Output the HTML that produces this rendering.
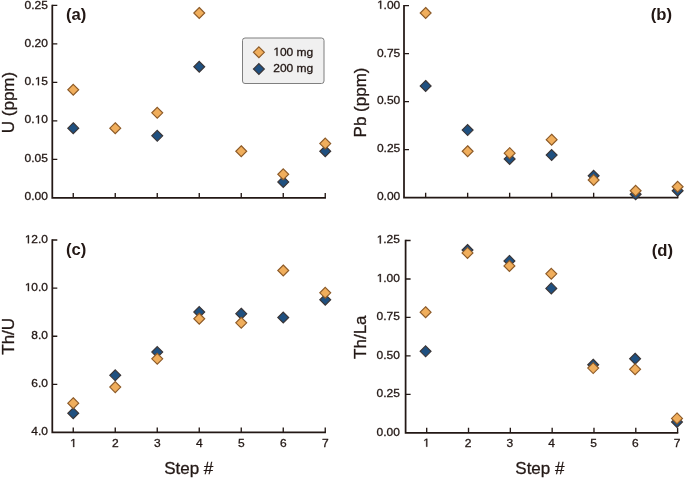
<!DOCTYPE html>
<html lang="en">
<head>
<meta charset="utf-8">
<title>Step leaching results</title>
<style>
html,body{margin:0;padding:0;background:#ffffff;}
body{width:685px;height:479px;overflow:hidden;font-family:"Liberation Sans",sans-serif;}
svg{display:block;will-change:transform;}
svg text{font-family:"Liberation Sans",sans-serif;fill:#231815;stroke:#231815;stroke-width:0.3px;}
</style>
</head>
<body>
<svg width="685" height="479" viewBox="0 0 685 479">
<rect x="0" y="0" width="685" height="479" fill="#ffffff"/>
<g>
<path d="M52.3 4.73V197.95H325.93" fill="none" stroke="#231815" stroke-width="1.75" stroke-linejoin="miter"/>
<text transform="translate(24.61 8.55) scale(1.045 1)" font-size="11.5">0.25</text>
<text transform="translate(24.61 46.85) scale(1.045 1)" font-size="11.5">0.20</text>
<text transform="translate(24.61 85.15) scale(1.045 1)" font-size="11.5">0.</text><path transform="translate(34.63 85.15) scale(0.00587 -0.00562)" d="M555 0V1237L237 1010V1180L570 1409H736V0Z" fill="#231815" stroke="#231815" stroke-width="0.3" vector-effect="non-scaling-stroke"/><text transform="translate(41.32 85.15) scale(1.045 1)" font-size="11.5">5</text>
<text transform="translate(24.61 123.45) scale(1.045 1)" font-size="11.5">0.</text><path transform="translate(34.63 123.45) scale(0.00587 -0.00562)" d="M555 0V1237L237 1010V1180L570 1409H736V0Z" fill="#231815" stroke="#231815" stroke-width="0.3" vector-effect="non-scaling-stroke"/><text transform="translate(41.32 123.45) scale(1.045 1)" font-size="11.5">0</text>
<text transform="translate(24.61 161.75) scale(1.045 1)" font-size="11.5">0.05</text>
<text transform="translate(24.61 200.05) scale(1.045 1)" font-size="11.5">0.00</text>
<path d="M52.3 5.4h5M52.3 43.91h5M52.3 82.42h5M52.3 120.93h5M52.3 159.44h5M73.25 197.95v-5M115.25 197.95v-5M157.25 197.95v-5M199.25 197.95v-5M241.25 197.95v-5M283.25 197.95v-5M325.25 197.95v-5" fill="none" stroke="#231815" stroke-width="1.35"/>
<text transform="translate(13.5 102.5) rotate(-90)" text-anchor="middle" font-size="17">U (ppm)</text>
<text transform="translate(65.9 20.2) scale(0.97 1.01)" text-anchor="start" font-size="17.2" font-weight="bold" style="stroke:none">(a)</text>
<path d="M73.25 122.73L78.7 128.18L73.25 133.63L67.8 128.18Z" fill="#1F5080" stroke="#3A3536" stroke-width="1.15"/>
<path d="M157.25 130.41L162.7 135.86L157.25 141.31L151.8 135.86Z" fill="#1F5080" stroke="#3A3536" stroke-width="1.15"/>
<path d="M199.25 61.29L204.7 66.74L199.25 72.19L193.8 66.74Z" fill="#1F5080" stroke="#3A3536" stroke-width="1.15"/>
<path d="M283.25 176.49L288.7 181.94L283.25 187.39L277.8 181.94Z" fill="#1F5080" stroke="#3A3536" stroke-width="1.15"/>
<path d="M325.25 145.77L330.7 151.22L325.25 156.67L319.8 151.22Z" fill="#1F5080" stroke="#3A3536" stroke-width="1.15"/>
<path d="M73.25 84.33L78.7 89.78L73.25 95.23L67.8 89.78Z" fill="#F0AE5C" stroke="#8C5A28" stroke-width="1.15"/>
<path d="M115.25 122.73L120.7 128.18L115.25 133.63L109.8 128.18Z" fill="#F0AE5C" stroke="#8C5A28" stroke-width="1.15"/>
<path d="M157.25 107.37L162.7 112.82L157.25 118.27L151.8 112.82Z" fill="#F0AE5C" stroke="#8C5A28" stroke-width="1.15"/>
<path d="M199.25 7.53L204.7 12.98L199.25 18.43L193.8 12.98Z" fill="#F0AE5C" stroke="#8C5A28" stroke-width="1.15"/>
<path d="M241.25 145.77L246.7 151.22L241.25 156.67L235.8 151.22Z" fill="#F0AE5C" stroke="#8C5A28" stroke-width="1.15"/>
<path d="M283.25 168.81L288.7 174.26L283.25 179.71L277.8 174.26Z" fill="#F0AE5C" stroke="#8C5A28" stroke-width="1.15"/>
<path d="M325.25 138.09L330.7 143.54L325.25 148.99L319.8 143.54Z" fill="#F0AE5C" stroke="#8C5A28" stroke-width="1.15"/>
</g>
<g>
<path d="M404 4.92V197.7H678.32" fill="none" stroke="#231815" stroke-width="1.75" stroke-linejoin="miter"/>
<path transform="translate(376.91 8.75) scale(0.00587 -0.00562)" d="M555 0V1237L237 1010V1180L570 1409H736V0Z" fill="#231815" stroke="#231815" stroke-width="0.3" vector-effect="non-scaling-stroke"/><text transform="translate(383.59 8.75) scale(1.045 1)" font-size="11.5">.00</text>
<text transform="translate(376.91 56.58) scale(1.045 1)" font-size="11.5">0.75</text>
<text transform="translate(376.91 104.4) scale(1.045 1)" font-size="11.5">0.50</text>
<text transform="translate(376.91 152.23) scale(1.045 1)" font-size="11.5">0.25</text>
<text transform="translate(376.91 200.05) scale(1.045 1)" font-size="11.5">0.00</text>
<path d="M404 5.6h5M404 53.62h5M404 101.65h5M404 149.67h5M425.65 197.7v-5M467.65 197.7v-5M509.65 197.7v-5M551.65 197.7v-5M593.65 197.7v-5M635.65 197.7v-5M677.65 197.7v-5" fill="none" stroke="#231815" stroke-width="1.35"/>
<text transform="translate(365.7 102.5) rotate(-90)" text-anchor="middle" font-size="17">Pb (ppm)</text>
<text transform="translate(672 20.2) scale(0.97 1.01)" text-anchor="end" font-size="17.2" font-weight="bold" style="stroke:none">(b)</text>
<path d="M425.65 80.49L431.1 85.94L425.65 91.39L420.2 85.94Z" fill="#1F5080" stroke="#3A3536" stroke-width="1.15"/>
<path d="M467.65 124.65L473.1 130.1L467.65 135.55L462.2 130.1Z" fill="#1F5080" stroke="#3A3536" stroke-width="1.15"/>
<path d="M509.65 153.45L515.1 158.9L509.65 164.35L504.2 158.9Z" fill="#1F5080" stroke="#3A3536" stroke-width="1.15"/>
<path d="M551.65 149.61L557.1 155.06L551.65 160.51L546.2 155.06Z" fill="#1F5080" stroke="#3A3536" stroke-width="1.15"/>
<path d="M593.65 170.35L599.1 175.8L593.65 181.25L588.2 175.8Z" fill="#1F5080" stroke="#3A3536" stroke-width="1.15"/>
<path d="M635.65 188.78L641.1 194.23L635.65 199.68L630.2 194.23Z" fill="#1F5080" stroke="#3A3536" stroke-width="1.15"/>
<path d="M677.65 185.32L683.1 190.77L677.65 196.22L672.2 190.77Z" fill="#1F5080" stroke="#3A3536" stroke-width="1.15"/>
<path d="M425.65 7.53L431.1 12.98L425.65 18.43L420.2 12.98Z" fill="#F0AE5C" stroke="#8C5A28" stroke-width="1.15"/>
<path d="M467.65 145.77L473.1 151.22L467.65 156.67L462.2 151.22Z" fill="#F0AE5C" stroke="#8C5A28" stroke-width="1.15"/>
<path d="M509.65 147.69L515.1 153.14L509.65 158.59L504.2 153.14Z" fill="#F0AE5C" stroke="#8C5A28" stroke-width="1.15"/>
<path d="M551.65 134.25L557.1 139.7L551.65 145.15L546.2 139.7Z" fill="#F0AE5C" stroke="#8C5A28" stroke-width="1.15"/>
<path d="M593.65 174.57L599.1 180.02L593.65 185.47L588.2 180.02Z" fill="#F0AE5C" stroke="#8C5A28" stroke-width="1.15"/>
<path d="M635.65 185.32L641.1 190.77L635.65 196.22L630.2 190.77Z" fill="#F0AE5C" stroke="#8C5A28" stroke-width="1.15"/>
<path d="M677.65 181.29L683.1 186.74L677.65 192.19L672.2 186.74Z" fill="#F0AE5C" stroke="#8C5A28" stroke-width="1.15"/>
</g>
<g>
<path d="M52.3 239.32V432.4H325.93" fill="none" stroke="#231815" stroke-width="1.75" stroke-linejoin="miter"/>
<path transform="translate(24.61 243.25) scale(0.00587 -0.00562)" d="M555 0V1237L237 1010V1180L570 1409H736V0Z" fill="#231815" stroke="#231815" stroke-width="0.3" vector-effect="non-scaling-stroke"/><text transform="translate(31.29 243.25) scale(1.045 1)" font-size="11.5">2.0</text>
<path transform="translate(24.61 291.1) scale(0.00587 -0.00562)" d="M555 0V1237L237 1010V1180L570 1409H736V0Z" fill="#231815" stroke="#231815" stroke-width="0.3" vector-effect="non-scaling-stroke"/><text transform="translate(31.29 291.1) scale(1.045 1)" font-size="11.5">0.0</text>
<text transform="translate(31.29 338.95) scale(1.045 1)" font-size="11.5">8.0</text>
<text transform="translate(31.29 386.8) scale(1.045 1)" font-size="11.5">6.0</text>
<text transform="translate(31.29 434.65) scale(1.045 1)" font-size="11.5">4.0</text>
<path transform="translate(69.91 447) scale(0.00587 -0.00562)" d="M555 0V1237L237 1010V1180L570 1409H736V0Z" fill="#231815" stroke="#231815" stroke-width="0.3" vector-effect="non-scaling-stroke"/>
<text transform="translate(111.91 447) scale(1.045 1)" font-size="11.5">2</text>
<text transform="translate(153.91 447) scale(1.045 1)" font-size="11.5">3</text>
<text transform="translate(195.91 447) scale(1.045 1)" font-size="11.5">4</text>
<text transform="translate(237.91 447) scale(1.045 1)" font-size="11.5">5</text>
<text transform="translate(279.91 447) scale(1.045 1)" font-size="11.5">6</text>
<text transform="translate(321.91 447) scale(1.045 1)" font-size="11.5">7</text>
<path d="M52.3 240h5M52.3 288.1h5M52.3 336.2h5M52.3 384.3h5M73.25 432.4v-5M115.25 432.4v-5M157.25 432.4v-5M199.25 432.4v-5M241.25 432.4v-5M283.25 432.4v-5M325.25 432.4v-5" fill="none" stroke="#231815" stroke-width="1.35"/>
<text transform="translate(13.5 336.3) rotate(-90)" text-anchor="middle" font-size="17">Th/U</text>
<text transform="translate(65.9 255.3) scale(0.97 1.01)" text-anchor="start" font-size="17.2" font-weight="bold" style="stroke:none">(c)</text>
<text x="188.75" y="473.6" text-anchor="middle" font-size="17">Step #</text>
<path d="M73.25 407.83L78.7 413.28L73.25 418.73L67.8 413.28Z" fill="#1F5080" stroke="#3A3536" stroke-width="1.15"/>
<path d="M115.25 369.91L120.7 375.36L115.25 380.81L109.8 375.36Z" fill="#1F5080" stroke="#3A3536" stroke-width="1.15"/>
<path d="M157.25 346.63L162.7 352.08L157.25 357.53L151.8 352.08Z" fill="#1F5080" stroke="#3A3536" stroke-width="1.15"/>
<path d="M199.25 306.55L204.7 312L199.25 317.45L193.8 312Z" fill="#1F5080" stroke="#3A3536" stroke-width="1.15"/>
<path d="M241.25 308.23L246.7 313.68L241.25 319.13L235.8 313.68Z" fill="#1F5080" stroke="#3A3536" stroke-width="1.15"/>
<path d="M283.25 312.07L288.7 317.52L283.25 322.97L277.8 317.52Z" fill="#1F5080" stroke="#3A3536" stroke-width="1.15"/>
<path d="M325.25 294.31L330.7 299.76L325.25 305.21L319.8 299.76Z" fill="#1F5080" stroke="#3A3536" stroke-width="1.15"/>
<path d="M73.25 397.75L78.7 403.2L73.25 408.65L67.8 403.2Z" fill="#F0AE5C" stroke="#8C5A28" stroke-width="1.15"/>
<path d="M115.25 381.67L120.7 387.12L115.25 392.57L109.8 387.12Z" fill="#F0AE5C" stroke="#8C5A28" stroke-width="1.15"/>
<path d="M157.25 353.35L162.7 358.8L157.25 364.25L151.8 358.8Z" fill="#F0AE5C" stroke="#8C5A28" stroke-width="1.15"/>
<path d="M199.25 313.27L204.7 318.72L199.25 324.17L193.8 318.72Z" fill="#F0AE5C" stroke="#8C5A28" stroke-width="1.15"/>
<path d="M241.25 317.35L246.7 322.8L241.25 328.25L235.8 322.8Z" fill="#F0AE5C" stroke="#8C5A28" stroke-width="1.15"/>
<path d="M283.25 265.03L288.7 270.48L283.25 275.93L277.8 270.48Z" fill="#F0AE5C" stroke="#8C5A28" stroke-width="1.15"/>
<path d="M325.25 287.35L330.7 292.8L325.25 298.25L319.8 292.8Z" fill="#F0AE5C" stroke="#8C5A28" stroke-width="1.15"/>
</g>
<g>
<path d="M405.6 239.82V432.75H678.29" fill="none" stroke="#231815" stroke-width="1.75" stroke-linejoin="miter"/>
<path transform="translate(376.51 243.45) scale(0.00587 -0.00562)" d="M555 0V1237L237 1010V1180L570 1409H736V0Z" fill="#231815" stroke="#231815" stroke-width="0.3" vector-effect="non-scaling-stroke"/><text transform="translate(383.19 243.45) scale(1.045 1)" font-size="11.5">.25</text>
<path transform="translate(376.51 281.96) scale(0.00587 -0.00562)" d="M555 0V1237L237 1010V1180L570 1409H736V0Z" fill="#231815" stroke="#231815" stroke-width="0.3" vector-effect="non-scaling-stroke"/><text transform="translate(383.19 281.96) scale(1.045 1)" font-size="11.5">.00</text>
<text transform="translate(376.51 320.47) scale(1.045 1)" font-size="11.5">0.75</text>
<text transform="translate(376.51 358.98) scale(1.045 1)" font-size="11.5">0.50</text>
<text transform="translate(376.51 397.49) scale(1.045 1)" font-size="11.5">0.25</text>
<text transform="translate(376.51 436) scale(1.045 1)" font-size="11.5">0.00</text>
<path transform="translate(422.96 446.7) scale(0.00587 -0.00562)" d="M555 0V1237L237 1010V1180L570 1409H736V0Z" fill="#231815" stroke="#231815" stroke-width="0.3" vector-effect="non-scaling-stroke"/>
<text transform="translate(464.76 446.7) scale(1.045 1)" font-size="11.5">2</text>
<text transform="translate(506.56 446.7) scale(1.045 1)" font-size="11.5">3</text>
<text transform="translate(548.36 446.7) scale(1.045 1)" font-size="11.5">4</text>
<text transform="translate(590.16 446.7) scale(1.045 1)" font-size="11.5">5</text>
<text transform="translate(631.96 446.7) scale(1.045 1)" font-size="11.5">6</text>
<text transform="translate(673.76 446.7) scale(1.045 1)" font-size="11.5">7</text>
<path d="M405.6 240.5h5M405.6 278.95h5M405.6 317.4h5M405.6 355.85h5M405.6 394.3h5M426.7 432.75v-5M468.52 432.75v-5M510.34 432.75v-5M552.16 432.75v-5M593.98 432.75v-5M635.8 432.75v-5M677.62 432.75v-5" fill="none" stroke="#231815" stroke-width="1.35"/>
<text transform="translate(365.7 337.2) rotate(-90)" text-anchor="middle" font-size="17">Th/La</text>
<text transform="translate(673 255.5) scale(0.97 1.01)" text-anchor="end" font-size="17.2" font-weight="bold" style="stroke:none">(d)</text>
<text x="539.9" y="473.6" text-anchor="middle" font-size="17">Step #</text>
<path d="M425.6 345.91L431.05 351.36L425.6 356.81L420.15 351.36Z" fill="#1F5080" stroke="#3A3536" stroke-width="1.15"/>
<path d="M467.5 244.53L472.95 249.98L467.5 255.43L462.05 249.98Z" fill="#1F5080" stroke="#3A3536" stroke-width="1.15"/>
<path d="M509.4 255.44L514.85 260.89L509.4 266.34L503.95 260.89Z" fill="#1F5080" stroke="#3A3536" stroke-width="1.15"/>
<path d="M551.3 282.93L556.75 288.38L551.3 293.83L545.85 288.38Z" fill="#1F5080" stroke="#3A3536" stroke-width="1.15"/>
<path d="M593.2 359.27L598.65 364.72L593.2 370.17L587.75 364.72Z" fill="#1F5080" stroke="#3A3536" stroke-width="1.15"/>
<path d="M635.1 353.28L640.55 358.73L635.1 364.18L629.65 358.73Z" fill="#1F5080" stroke="#3A3536" stroke-width="1.15"/>
<path d="M677 416.57L682.45 422.02L677 427.47L671.55 422.02Z" fill="#1F5080" stroke="#3A3536" stroke-width="1.15"/>
<path d="M425.6 306.74L431.05 312.19L425.6 317.64L420.15 312.19Z" fill="#F0AE5C" stroke="#8C5A28" stroke-width="1.15"/>
<path d="M467.5 247.45L472.95 252.9L467.5 258.35L462.05 252.9Z" fill="#F0AE5C" stroke="#8C5A28" stroke-width="1.15"/>
<path d="M509.4 260.51L514.85 265.96L509.4 271.41L503.95 265.96Z" fill="#F0AE5C" stroke="#8C5A28" stroke-width="1.15"/>
<path d="M551.3 268.34L556.75 273.79L551.3 279.24L545.85 273.79Z" fill="#F0AE5C" stroke="#8C5A28" stroke-width="1.15"/>
<path d="M593.2 362.65L598.65 368.1L593.2 373.55L587.75 368.1Z" fill="#F0AE5C" stroke="#8C5A28" stroke-width="1.15"/>
<path d="M635.1 363.88L640.55 369.33L635.1 374.78L629.65 369.33Z" fill="#F0AE5C" stroke="#8C5A28" stroke-width="1.15"/>
<path d="M677 412.94L682.45 418.39L677 423.84L671.55 418.39Z" fill="#F0AE5C" stroke="#8C5A28" stroke-width="1.15"/>
</g>
<g>
<rect x="242.5" y="38" width="81.5" height="45.5" rx="2.5" ry="2.5" fill="#F0F0F0" stroke="#7F7F7F" stroke-width="1"/>
<path d="M258.9 46.85L264.35 52.3L258.9 57.75L253.45 52.3Z" fill="#F0AE5C" stroke="#8C5A28" stroke-width="1.15"/>
<path d="M258.9 63.55L264.35 69L258.9 74.45L253.45 69Z" fill="#1F5080" stroke="#3A3536" stroke-width="1.15"/>
<path transform="translate(273.2 55.7) scale(0.00587 -0.00562)" d="M555 0V1237L237 1010V1180L570 1409H736V0Z" fill="#231815" stroke="#231815" stroke-width="0.3" vector-effect="non-scaling-stroke"/><text transform="translate(279.88 55.7) scale(1.045 1)" font-size="11.5">00 mg</text>
<text transform="translate(273.2 72.4) scale(1.045 1)" font-size="11.5">200 mg</text>
</g>
</svg>
</body>
</html>
